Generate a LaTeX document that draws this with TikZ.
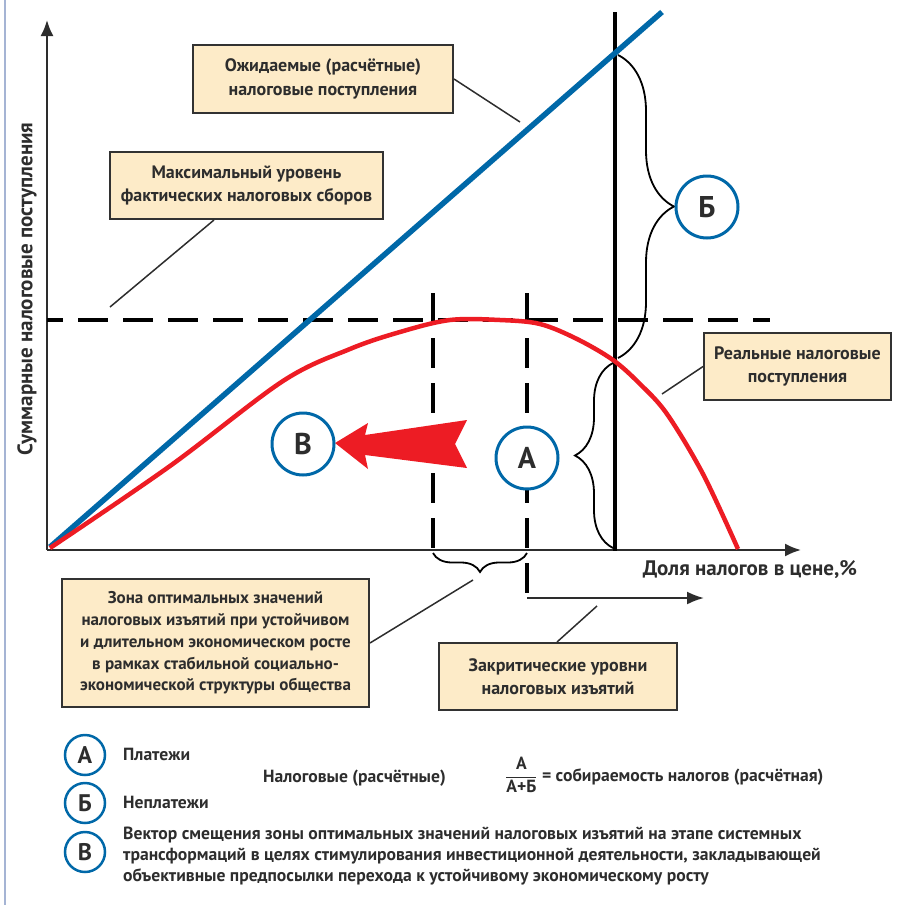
\documentclass[tikz,border=0pt]{standalone}
\usepackage{fontspec}
\setmainfont{PT Sans}
\usetikzlibrary{arrows.meta,decorations.pathreplacing}

\definecolor{txt}{RGB}{45,45,45}
\definecolor{boxfill}{RGB}{253,235,200}
\definecolor{boxline}{RGB}{50,50,50}
\definecolor{blueline}{RGB}{0,104,168}
\definecolor{redline}{RGB}{237,28,36}
\definecolor{frameline}{RGB}{165,180,212}

\tikzset{
  infobox/.style={draw=boxline, fill=boxfill, line width=2pt, align=center, inner sep=0pt,
    text=txt, font=\bfseries\fontsize{18}{23.5}\selectfont},
  letter/.style={circle, draw=blueline, line width=3pt, fill=white, minimum size=62pt,
    inner sep=0pt, text=txt, font=\bfseries\fontsize{30}{30}\selectfont},
  smallletter/.style={letter, minimum size=40pt, line width=2.5pt,
    font=\bfseries\fontsize{24}{24}\selectfont},
  legendtext/.style={inner sep=0pt, text=txt, font=\bfseries\fontsize{17.6}{21}\selectfont},
  leader/.style={draw=txt, line width=1.5pt},
  axis/.style={draw=txt, line width=2pt, -{Latex[length=16pt,width=13pt]}},
  dashline/.style={draw=black, line width=3.5pt, dash pattern=on 30pt off 15pt},
  bigbrace/.style={draw=black, line width=1.8pt, decorate, decoration={brace, amplitude=#1}},
}

\begin{document}
\begin{tikzpicture}[x=1pt, y=-1pt]
  \useasboundingbox (0,0) rectangle (900,905);
  \draw[frameline, line width=2pt] (5,0) -- (5,905);

  % axes
  \coordinate (O) at (47,550);
  \coordinate (ytip) at (47,20);
  \coordinate (xtip) at (801,550);
  \draw[axis] (O) -- (ytip);
  \draw[axis] (O) -- (xtip);
  \node[text=txt, font=\bfseries\fontsize{21}{21}\selectfont, rotate=90] (ylab) at (27,289)
    {Суммарные налоговые поступления};
  \node[text=txt, font=\bfseries\fontsize{21}{21}\selectfont] (xlab) at (750,570)
    {Доля налогов в цене,\%};

  % levels and zones
  \coordinate (maxl0) at (47,320);
  \coordinate (maxl1) at (770,320);
  \draw[dashline, dash phase=14pt] (maxl0) -- (maxl1);
  \coordinate (optl0) at (433,293);
  \coordinate (optl1) at (433,556);
  \draw[dashline] (optl0) -- (optl1);
  \coordinate (optr0) at (527,293);
  \coordinate (optr1) at (527,598);
  \draw[dashline] (optr0) -- (optr1);
  \coordinate (crittip) at (704,598);
  \draw[txt, line width=2pt, -{Latex[length=17pt,width=13pt]}] (optr1) -- (crittip);

  \coordinate (cut0) at (615,12);
  \coordinate (cut1) at (615,551);
  \draw[black, line width=3.5pt] (cut0) -- (cut1);

  % revenue curves
  \coordinate (exp0) at (50,547);
  \coordinate (exp1) at (662,12);
  \draw[blueline, line width=5.5pt] (exp0) -- (exp1);
  \draw[redline, line width=4.5pt, line join=round] plot[smooth, tension=0.55] coordinates {
    (50,548) (170,466) (283,381) (350,349) (400,332) (450,320) (500,320) (540,324)
    (577,339) (613,360) (640,384) (667,414) (703,474) (738,549)};

  % braces
  \draw[bigbrace=56pt] (618,55) -- (618,358);
  \draw[bigbrace=38pt] (613,548) -- (613,363);
  \draw[bigbrace=19pt] (527,553) -- (433,553);

  % shift vector
  \fill[redline] (335,443) -- (368,423) -- (365,435) -- (467,420) -- (455,444)
    -- (467,468) -- (365,455) -- (368,469) -- cycle;

  \node[letter] (A) at (527,458) {А};
  \node[letter] (B) at (707,207) {Б};
  \node[letter] (V) at (303,444) {В};

  % captions
  \node[infobox, minimum width=260pt, minimum height=68pt] (exp) at (323,79)
    {Ожидаемые (расчётные)\\налоговые поступления};
  \draw[leader] (exp.east) -- (520,122);
  \node[infobox, minimum width=273pt, minimum height=67pt] (maxl) at (246.5,185.5)
    {Максимальный уровень\\фактических налоговых сборов};
  \draw[leader] ([xshift=105pt]maxl.south west) -- (110,307);
  \node[infobox, minimum width=187pt, minimum height=67pt] (real) at (797.5,366.5)
    {Реальные налоговые\\поступления};
  \draw[leader] (real.west) -- (662,394);
  \node[infobox, minimum width=307pt, minimum height=128pt,
    font=\bfseries\fontsize{17}{21.7}\selectfont] (zone) at (215.5,643)
    {Зона оптимальных значений\\налоговых изъятий при устойчивом\\и длительном экономическом росте\\
     в рамках стабильной социально-\\экономической структуры общества};
  \draw[leader] (zone.east) -- (473,580);
  \node[infobox, minimum width=238pt, minimum height=67pt] (crit) at (558,676.5)
    {Закритические уровни\\налоговых изъятий};
  \draw[leader] ([xshift=119pt]crit.north west) -- (597,606);

  % legend
  \node[smallletter] (lA) at (85,755) {А};
  \node[smallletter] (lB) at (85,803) {Б};
  \node[smallletter] (lV) at (85,852) {В};
  \node[legendtext, anchor=west] (pay) at (123,754) {Платежи};
  \node[legendtext, anchor=west] (nopay) at (123,802) {Неплатежи};
  \node[legendtext, anchor=west] (calc) at (263,778) {Налоговые (расчётные)};
  \node[legendtext, anchor=west] (ratio) at (505,775)
    {$\displaystyle\frac{\mbox{\bfseries А}}{\mbox{\bfseries А+Б}}$ = собираемость налогов (расчётная)};
  \node[legendtext, anchor=north west, align=left] (vec) at (123,827)
    {Вектор смещения зоны оптимальных значений налоговых изъятий на этапе системных\\
     трансформаций в целях стимулирования инвестиционной деятельности, закладывающей\\
     объективные предпосылки перехода к устойчивому экономическому росту};
\end{tikzpicture}
\end{document}
